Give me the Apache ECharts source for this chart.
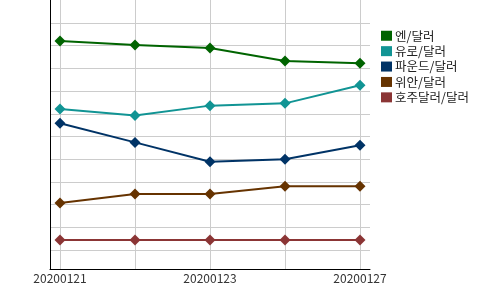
<!DOCTYPE html>
<html>
<head>
<meta charset="utf-8">
<script src="https://cdn.jsdelivr.net/npm/echarts@6/dist/echarts.min.js"></script>
<style>html,body{margin:0;padding:0;background:#fff}#c{width:500px;height:290px}</style>
</head>
<body>
<div id="c"></div>
<script>
const categories = ['20200121', '20200122', '20200123', '20200124', '20200127'];
const seriesNames = ['엔/달러', '유로/달러', '파운드/달러', '위안/달러', '호주달러/달러'];
const yenDollar = [9.21, 9.03, 8.90, 8.33, 8.23];
const euroDollar = [6.21, 5.92, 6.36, 6.46, 7.26];
const poundDollar = [5.58, 4.74, 3.89, 4.00, 4.61];
const yuanDollar = [2.07, 2.47, 2.47, 2.81, 2.81];
const audDollar = [0.44, 0.44, 0.44, 0.44, 0.44];
const seriesColors = ['#006400', '#119494', '#003366', '#663300', '#8b3535'];

const seriesValues = [yenDollar, euroDollar, poundDollar, yuanDollar, audDollar];
const FONT = '"Noto Sans CJK KR", "Noto Sans", sans-serif';
const chart = echarts.init(document.getElementById('c'), null, {renderer: 'canvas'});
const unit = 22.7;
chart.setOption({
  animation: false,
  backgroundColor: '#fff',
  textStyle: {fontFamily: FONT},
  grid: [
    {left: 50, right: 130, top: 0, bottom: 21},
    {left: 60, width: 300, top: 0, bottom: 21},
    {left: 50, right: 130, top: 23, bottom: 40}
  ],
  legend: {
    orient: 'vertical', left: 381, top: 29.5, padding: 0,
    itemWidth: 11, itemHeight: 10, itemGap: 2.9, icon: 'rect',
    textStyle: {fontSize: 12.5, color: '#222', fontFamily: FONT, padding: [0, 0, 0, -2]},
    data: seriesNames
  },
  xAxis: [
    {gridIndex: 0, type: 'value', min: 0, max: 1,
     axisLine: {show: true, lineStyle: {color: '#000', width: 1}},
     axisTick: {show: false}, axisLabel: {show: false}, splitLine: {show: false}},
    {gridIndex: 1, type: 'category', boundaryGap: false, data: categories,
     axisLine: {show: false}, axisTick: {show: false},
     axisLabel: {interval: 1, margin: 3, fontSize: 12, color: '#333', fontFamily: FONT},
     splitLine: {show: true, interval: 0, lineStyle: {color: '#cccccc', width: 1}}},
    {gridIndex: 2, type: 'value', min: 0, max: 1, show: false}
  ],
  yAxis: [
    {gridIndex: 0, type: 'value', min: 0, max: 1,
     axisLine: {show: true, lineStyle: {color: '#000', width: 1}},
     axisTick: {show: false}, axisLabel: {show: false}, splitLine: {show: false}},
    {gridIndex: 1, type: 'value', min: -19 / unit, max: 250 / unit, show: false,
     splitLine: {show: false}},
    {gridIndex: 2, type: 'value', min: 0, max: 10, interval: 1,
     axisLine: {show: false}, axisTick: {show: false}, axisLabel: {show: false},
     splitLine: {show: true, lineStyle: {color: '#cccccc', width: 1}}}
  ],
  series: seriesNames.map((name, i) => ({
    name: name, type: 'line', xAxisIndex: 1, yAxisIndex: 1,
    data: seriesValues[i],
    symbol: 'diamond', symbolSize: 11,
    lineStyle: {width: 2, color: seriesColors[i]},
    itemStyle: {color: seriesColors[i]}
  }))
});
</script>
</body>
</html>
